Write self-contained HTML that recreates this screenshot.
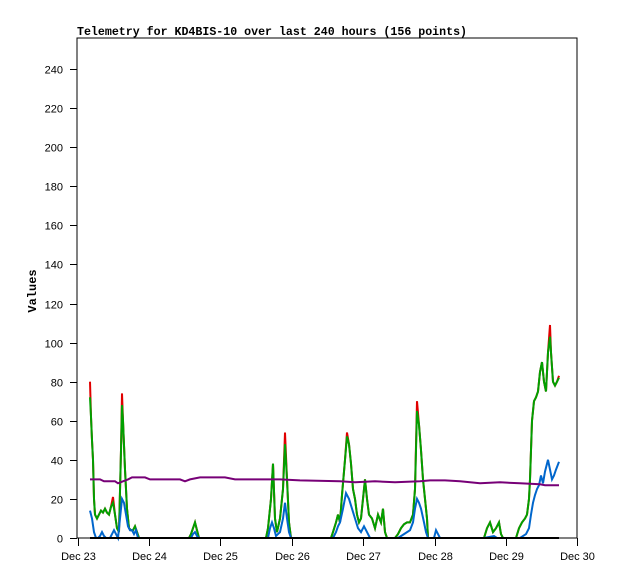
<!DOCTYPE html>
<html><head><meta charset="utf-8"><style>
html,body{margin:0;padding:0;background:#fff;}
svg{display:block;}
text{font-family:"Liberation Sans",sans-serif;font-size:11px;fill:#000;}
.t{font-family:"Liberation Mono",monospace;font-weight:bold;font-size:12px;}
</style></head><body>
<svg id="s" width="618" height="579" xmlns="http://www.w3.org/2000/svg">
<rect x="77" y="38" width="500" height="500" fill="none" stroke="#000" stroke-width="1"/>
<text class="t" x="77" y="35" textLength="390" lengthAdjust="spacingAndGlyphs">Telemetry for KD4BIS-10 over last 240 hours (156 points)</text>
<text x="36" y="291" text-anchor="middle" transform="rotate(-90 36 291)" style="font-family:'Liberation Mono',monospace;font-weight:bold;font-size:12px">Values</text>
<g id="ax"></g>
<g id="ser" fill="none" stroke-width="2" stroke-linejoin="miter"></g>
</svg>
<script>
var ax=document.getElementById('ax'),ser=document.getElementById('ser'),NS='http://www.w3.org/2000/svg';
function el(n,a,p,t){var e=document.createElementNS(NS,n);for(var k in a)e.setAttribute(k,a[k]);if(t)e.textContent=t;p.appendChild(e);return e;}
function Y(v){return 538-v*1.954;}
for(var v=0;v<=240;v+=20){var y=Math.round(Y(v))+0.5;el('line',{x1:70,x2:77,y1:y,y2:y,stroke:'#000'},ax);el('text',{x:63,y:y+4,'text-anchor':'end'},ax,String(v));}
for(var d=0;d<=7;d++){var x=Math.round(77.5+d*71.4)+0.5;el('line',{x1:x,x2:x,y1:538,y2:546,stroke:'#000'},ax);el('text',{x:x,y:560,'text-anchor':'middle'},ax,'Dec '+(23+d));}
function pl(pts,c){var s=pts.map(function(p){return p[0]+','+Y(p[1]).toFixed(1);}).join(' ');el('polyline',{points:s,stroke:c},ser);}
var G=[[90,72],[91,62],[92,50],[93,40],[94,20],[95,12],[97,10],[99,12],[101,14],[103,13],[105,15],[107,13],[109,12],[111,16],[113,18],[115,12],[117,5],[119,3],[121,45],[122,68],[123,60],[125,35],[127,15],[129,5],[131,4],[133,4],[135,6],[137,3],[139,0],[189,0],[191,2],[193,5],[195,8],[197,4],[199,0],[266,0],[268,5],[271,20],[273,38],[275,10],[277,3],[280,10],[283,25],[285,48],[287,30],[289,8],[291,0],[331,0],[333,3],[336,8],[338,12],[340,8],[342,22],[345,40],[347,52],[349,48],[351,38],[353,25],[355,20],[357,12],[359,8],[361,10],[363,20],[365,30],[367,20],[369,12],[372,10],[375,5],[378,12],[381,8],[383,15],[385,3],[387,0],[395,0],[398,2],[401,5],[404,7],[407,8],[410,8],[413,12],[415,25],[417,65],[419,58],[421,45],[423,30],[425,20],[427,10],[428,0],[484,0],[487,5],[490,8],[493,3],[496,5],[499,8],[501,2],[503,0],[516,0],[519,5],[522,8],[525,10],[527,12],[529,20],[530,30],[532,60],[534,70],[536,72],[538,75],[540,85],[542,90],[544,80],[546,75],[548,95],[550,103],[551,95],[553,80],[555,78],[557,80],[559,82]];
var R=G.map(function(p){var q=[p[0],p[1]];if(p[0]==90)q[1]=80;if(p[0]==122)q[1]=74;if(p[0]==285)q[1]=54;if(p[0]==347)q[1]=54;if(p[0]==417)q[1]=70;if(p[0]==550)q[1]=109;if(p[0]==113)q[1]=21;if(p[0]==559)q[1]=83;return q;});
var B=[[90,14],[92,10],[94,3],[96,0],[98,0],[100,1],[102,3],[104,1],[106,0],[110,0],[112,2],[114,4],[116,2],[118,0],[120,10],[122,20],[124,18],[126,12],[128,6],[130,4],[132,4],[134,2],[136,4],[138,0],[191,0],[193,2],[195,3],[197,1],[199,0],[268,0],[270,5],[272,8],[274,5],[276,1],[280,3],[283,10],[285,18],[287,10],[289,3],[291,0],[333,0],[336,3],[338,6],[340,8],[343,15],[346,23],[349,20],[352,15],[355,10],[358,5],[361,3],[364,6],[367,3],[370,0],[398,0],[404,2],[410,4],[413,8],[415,15],[417,20],[419,18],[421,15],[424,8],[426,3],[428,0],[434,0],[436,4],[438,2],[440,0],[484,0],[494,1],[497,0],[520,0],[526,2],[529,5],[531,12],[533,18],[535,22],[537,25],[539,27],[541,32],[543,28],[545,34],[548,40],[550,35],[552,30],[554,32],[556,35],[559,39]];
var P=[[90,30],[100,30],[104,29],[115,29],[118,28],[123,29],[128,30],[132,31],[145,31],[150,30],[160,30],[180,30],[185,29],[190,30],[200,31],[225,31],[235,30],[280,30],[300,29.5],[340,29],[355,28.5],[375,29],[395,28.5],[420,29],[430,29.5],[445,29.5],[460,29],[480,28],[500,28.5],[520,28],[540,27.5],[545,27],[559,27]];
pl(R,'#e00000');pl(G,'#00a000');pl(B,'#0066cc');pl(P,'#770077');
pl([[90,0],[559,0]],'#000');
</script>
</body></html>
